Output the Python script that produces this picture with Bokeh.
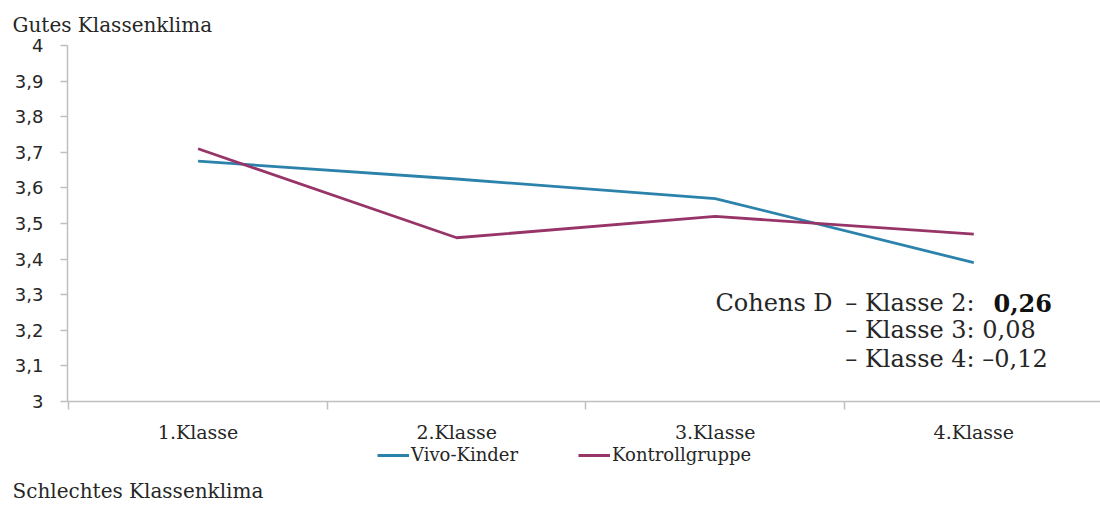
from bokeh.plotting import figure
from bokeh.layouts import column
from bokeh.models import (Range1d, FixedTicker, CustomJSTickFormatter, Label,
                          Legend, LegendItem, Title)
from bokeh.embed import file_html
from bokeh.resources import INLINE

# ---- data ----
klassen = ["1.Klasse", "2.Klasse", "3.Klasse", "4.Klasse"]
x_pos = [1, 2, 3, 4]
vivo_kinder = [3.675, 3.625, 3.57, 3.39]
kontrollgruppe = [3.71, 3.46, 3.52, 3.47]
y_ticks = [3.0, 3.1, 3.2, 3.3, 3.4, 3.5, 3.6, 3.7, 3.8, 3.9, 4.0]
cohens_klassen = ["Klasse 2", "Klasse 3", "Klasse 4"]
cohens_werte = ["0,26", "0,08", "–0,12"]
series_names = ["Vivo-Kinder", "Kontrollgruppe"]

SERIF = "DejaVu Serif"
SANS = "DejaVu Sans"
BLUE = "#2b82ab"
PURPLE = "#973468"
GREY = "#bfbfbf"
TXT = "#262626"
LW = 2.8

p = figure(frame_width=1033, frame_height=356, output_backend="svg",
           toolbar_location=None,
           x_range=Range1d(0.495, 4.49), y_range=Range1d(3, 4),
           min_border_left=67, min_border_right=0, min_border_top=45,
           min_border_bottom=30)
p.outline_line_color = None
p.xgrid.visible = False
p.ygrid.visible = False
p.background_fill_color = "white"
p.border_fill_color = "white"

r1 = p.line(x_pos, vivo_kinder, line_color=BLUE, line_width=LW)
r2 = p.line(x_pos, kontrollgruppe, line_color=PURPLE, line_width=LW)

# x axis
xa = p.xaxis[0]
xa.ticker = FixedTicker(ticks=x_pos, minor_ticks=[0.5, 1.5, 2.5, 3.5])
xa.major_label_overrides = {x: k for x, k in zip(x_pos, klassen)}
xa.axis_line_color = GREY
xa.axis_line_width = 1.5
xa.major_tick_line_color = None
xa.major_tick_out = 0
xa.major_tick_in = 0
xa.minor_tick_line_color = GREY
xa.minor_tick_line_width = 1.5
xa.minor_tick_out = 8
xa.minor_tick_in = 0
xa.major_label_standoff = 11
xa.major_label_text_font = SERIF
xa.major_label_text_font_size = "19px"
xa.major_label_text_color = TXT

# y axis
ya = p.yaxis[0]
ya.ticker = FixedTicker(ticks=y_ticks, minor_ticks=[])
ya.formatter = CustomJSTickFormatter(code="""
const s = tick.toFixed(1).replace('.', ',');
return s.endsWith(',0') ? s.slice(0, -2) : s;
""")
ya.axis_line_color = GREY
ya.axis_line_width = 1.5
ya.major_tick_line_color = GREY
ya.major_tick_line_width = 1.5
ya.major_tick_out = 7
ya.major_tick_in = 0
ya.minor_tick_line_color = None
ya.major_label_standoff = 17
ya.major_label_text_font = SANS
ya.major_label_text_font_size = "18px"
ya.major_label_text_color = TXT

# top title
p.add_layout(Title(text="Gutes Klassenklima", align="left", offset=-55,
                   standoff=17, text_font=SERIF, text_font_size="20px",
                   text_font_style="normal", text_color=TXT), "above")

# Cohens D annotation
line_y = [3.278, 3.1995, 3.118]
FS = "24px"
p.add_layout(Label(x=3.001, y=line_y[0], text="Cohens D", text_font=SERIF,
                   text_font_size=FS, text_color=TXT, text_baseline="alphabetic"))
for i, (k, w) in enumerate(zip(cohens_klassen, cohens_werte)):
    if i == 0:
        p.add_layout(Label(x=3.503, y=line_y[i], text="– " + k + ":", text_font=SERIF,
                           text_font_size=FS, text_color=TXT,
                           text_baseline="alphabetic"))
        p.add_layout(Label(x=4.076, y=line_y[i], text=w, text_font=SERIF,
                           text_font_size=FS, text_font_style="bold",
                           text_color="#111111", text_baseline="alphabetic"))
    else:
        p.add_layout(Label(x=3.503, y=line_y[i], text="– " + k + ": " + w,
                           text_font=SERIF, text_font_size=FS, text_color=TXT,
                           text_baseline="alphabetic"))

# ---- bottom strip: legend + bottom caption ----
p2 = figure(frame_width=1100, frame_height=30, output_backend="svg",
            toolbar_location=None, x_axis_type=None, y_axis_type=None,
            x_range=Range1d(100, 1200), y_range=Range1d(100, 130),
            min_border=0, min_border_bottom=2)
p2.outline_line_color = None
p2.xgrid.visible = False
p2.ygrid.visible = False
p2.background_fill_color = "white"
p2.border_fill_color = "white"
# same series (outside this strip's view) so the legend swatches match
l1 = p2.line(x_pos, vivo_kinder, line_color=BLUE, line_width=LW)
l2 = p2.line(x_pos, kontrollgruppe, line_color=PURPLE, line_width=LW)

legend = Legend(items=[LegendItem(label=series_names[0], renderers=[l1]),
                       LegendItem(label=series_names[1], renderers=[l2])],
                location=(377, 10), orientation="horizontal",
                padding=0, margin=0, spacing=60, glyph_width=32, glyph_height=16,
                label_standoff=2, label_height=16,
                label_text_font=SERIF, label_text_font_size="18px",
                label_text_color=TXT, border_line_color=None,
                background_fill_alpha=0)
p2.add_layout(legend)

p2.add_layout(Title(text="Schlechtes Klassenklima", align="left", offset=-55,
                    standoff=3, text_font=SERIF, text_font_size="20px",
                    text_font_style="normal", text_color=TXT), "below")

layout = column(p, p2, spacing=0)
open("out.html", "w").write(file_html(layout, INLINE))
